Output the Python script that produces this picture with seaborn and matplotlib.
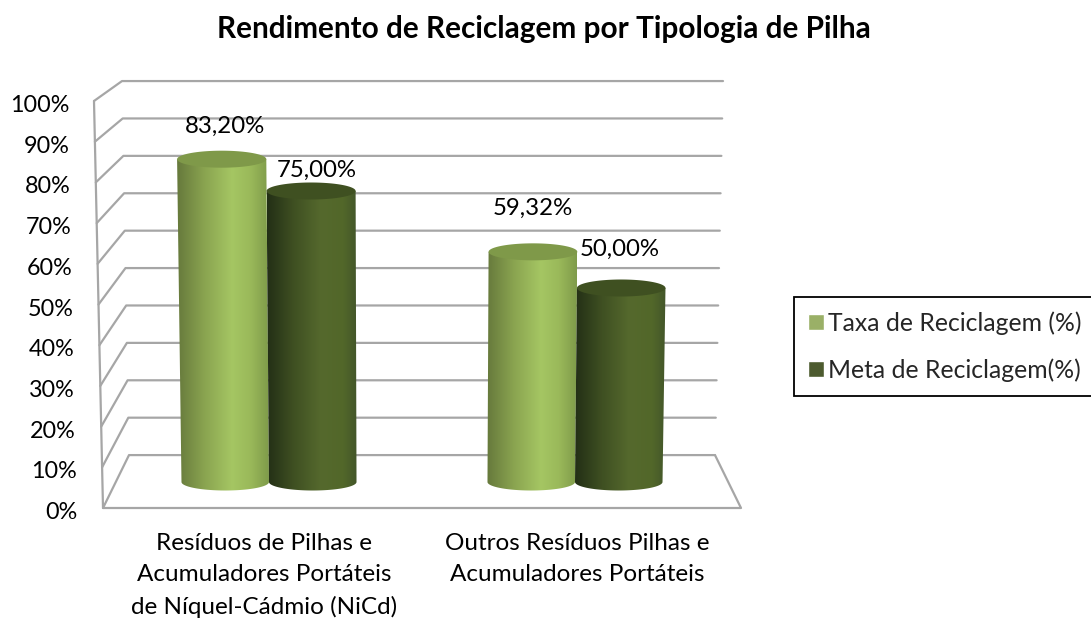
import numpy as np
import pandas as pd
import matplotlib
matplotlib.use("Agg")
import matplotlib.pyplot as plt
from matplotlib.colors import LinearSegmentedColormap
from matplotlib.patches import Polygon
from matplotlib.transforms import ScaledTranslation
import seaborn as sns

# ==== DATA ====
categories = [
    "Resíduos de Pilhas e\nAcumuladores Portáteis\nde Níquel-Cádmio (NiCd)",
    "Outros Resíduos Pilhas e\nAcumuladores Portáteis",
]
series_names = ["Taxa de Reciclagem (%)", "Meta de Reciclagem(%)"]
taxa_values = [83.20, 59.32]
meta_values = [75.00, 50.00]
axis_ticks = [0, 10, 20, 30, 40, 50, 60, 70, 80, 90, 100]
title = "Rendimento de Reciclagem por Tipologia de Pilha"

# ==== STYLE ====
W, H = 1091, 621
wall_color = "#a6a6a6"
legend_colors = ["#9fbc5b", "#4f6228"]
cap_colors = ["#7f9949", "#3f5021"]
body_cmaps = [
    LinearSegmentedColormap.from_list("light", [(0, "#66793c"), (0.3, "#8aa450"), (0.6, "#a5c663"), (0.8, "#9ab95a"), (1, "#7f9b4a")]),
    LinearSegmentedColormap.from_list("dark", [(0, "#232f16"), (0.3, "#3f5022"), (0.6, "#55692d"), (0.85, "#526729"), (1, "#43562a")]),
]
# label offsets in pixels from the top of each bar, same order as the data
label_offsets = [[(0, 33), (2, 43)], [(4, 21), (1, 39)]]

sns.set_style("white")
plt.rcParams["font.family"] = ["Lato", "DejaVu Sans"]
tick_size = 16.8
text_size = 17.5


def px_axes(fig, left, top, right, bottom):
    return fig.add_axes([left / W, 1 - bottom / H, (right - left) / W, (bottom - top) / H])


fig = plt.figure(figsize=(W / 100, H / 100), dpi=100)
fig.patch.set_facecolor("white")

# ==== WALLS ====
# x in pixels, y in percent of the front edge
wall = px_axes(fig, 103, 101, 745, 508)
wall.set_xlim(103, 745)
wall.set_ylim(0, 100)
wall.patch.set_visible(False)
sns.despine(ax=wall, left=True, bottom=True)


def front_x(v):
    return 103 - 0.09 * v


def back_x(v):
    return 129 - 0.07 * v


def back_y(v):
    return 13.0 + 0.919 * v


def right_x(v):
    return 715 + 0.08 * v


line_kw = dict(color=wall_color, lw=1.6, clip_on=False, solid_capstyle="round", solid_joinstyle="round")
for v in axis_ticks:
    wall.plot([front_x(v), back_x(v), right_x(v)], [v, back_y(v), back_y(v)], **line_kw)
wall.plot([front_x(100), front_x(0), 741, right_x(0)], [100, 0, 0, back_y(0)], **line_kw)

wall.set_xticks([])
wall.set_yticks(axis_ticks, [f"{v}%" for v in axis_ticks], fontsize=tick_size, color="black")
wall.tick_params(axis="y", length=0, pad=18.5)
for v, lab in zip(axis_ticks, wall.get_yticklabels()):
    lab.set_transform(lab.get_transform() + ScaledTranslation(-0.08 * v / 100, -0.025, fig.dpi_scale_trans))

# ==== BARS ====
df = pd.DataFrame({
    "Categoria": categories * 2,
    "Serie": [series_names[0]] * 2 + [series_names[1]] * 2,
    "Valor": taxa_values + meta_values,
})

px_per_pct = 3.88
ax = px_axes(fig, 116, 94, 728, 482 + 10 * px_per_pct)
ax.patch.set_visible(False)
sns.barplot(
    data=df, x="Categoria", y="Valor", hue="Serie",
    palette=legend_colors, width=0.572, ax=ax, zorder=2,
)
ax.set_xlim(-0.5, 1.5)
ax.set_ylim(-10, 100)
sns.despine(ax=ax, left=True, bottom=True)
ax.set_xlabel("")
ax.set_ylabel("")
ax.set_yticks([])
ax.tick_params(axis="x", length=0, pad=9, labelsize=text_size, labelcolor="black")
for lab in ax.get_xticklabels():
    lab.set_linespacing(1.6)
ax.get_xticklabels()[0].set_transform(
    ax.get_xticklabels()[0].get_transform() + ScaledTranslation(-0.05, 0, fig.dpi_scale_trans)
)
ax.get_xticklabels()[1].set_transform(
    ax.get_xticklabels()[1].get_transform() + ScaledTranslation(0.02, 0, fig.dpi_scale_trans)
)

# legend box runs off the right edge of the picture
sns.move_legend(
    ax, loc="upper left", bbox_to_anchor=(794 / W, 1 - 297 / H, 310 / W, 0), bbox_transform=fig.transFigure,
    mode="expand", title=None, frameon=True, fancybox=False, edgecolor="black", framealpha=1,
    fontsize=17.8, handlelength=0.62, handleheight=0.62, handletextpad=0.18,
    labelspacing=0.95, borderpad=0.58, borderaxespad=0,
)
ax.get_legend().get_frame().set_linewidth(1.3)

# perspective lean of the cylinders, in x units per percent
lean = 0.0233 / 100
lean_x0 = 0.455
cap_h = 8.5 / px_per_pct
t = np.linspace(0, np.pi, 60)


def lean_at(x, v):
    return x + lean * (x - lean_x0) * v


for s, container in enumerate(ax.containers):
    for c, bar in enumerate(container):
        xl, xr = bar.get_x(), bar.get_x() + bar.get_width()
        v = bar.get_height()
        bar.set_facecolor("none")
        bar.set_edgecolor("none")
        xc = (xl + xr) / 2
        half = (xr - xl) / 2
        # body outline with the rounded bottom
        arc_x = xc - half * np.cos(t)
        arc_y = -cap_h * np.sin(t)
        outline = [(lean_at(xl, v), v)] + list(zip(arc_x, arc_y)) + [(lean_at(xr, v), v)]
        clip = Polygon(outline, closed=True, transform=ax.transData, fc="none", ec="none")
        ax.add_patch(clip)
        x0, x1 = min(xl, lean_at(xl, v)), max(xr, lean_at(xr, v))
        im = ax.imshow(
            np.linspace(0, 1, 256).reshape(1, -1), cmap=body_cmaps[s], aspect="auto",
            extent=[x0, x1, -cap_h - 1, v + 1], zorder=3 + s,
        )
        im.set_clip_path(clip)
        # top cap
        tt = np.linspace(0, 2 * np.pi, 120)
        cxl, cxr = lean_at(xl, v), lean_at(xr, v)
        cap_x = (cxl + cxr) / 2 + (cxr - cxl) / 2 * np.cos(tt)
        cap_y = v + cap_h * np.sin(tt)
        ax.add_patch(Polygon(np.column_stack([cap_x, cap_y]), closed=True, fc=cap_colors[s], ec="none", zorder=3 + s))
        # data label
        label = f"{v:.2f}".replace(".", ",") + "%"
        ax.annotate(
            label, (xc, v), xytext=label_offsets[s][c], textcoords="offset pixels",
            ha="center", va="center", fontsize=17.3, color="black", zorder=6,
        )

ax.set_xlim(-0.5, 1.5)
ax.set_ylim(-10, 100)

fig.text(544 / W, 1 - 29 / H, title, ha="center", va="center", fontsize=21.4, fontweight="bold", color="black")

fig.savefig("out.png", dpi=100)
